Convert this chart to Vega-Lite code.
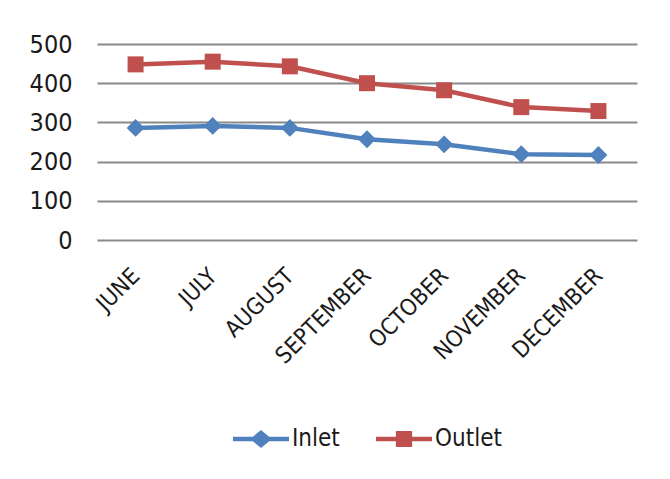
{
  "$schema": "https://vega.github.io/schema/vega-lite/v6.json",
  "width": 540,
  "height": 196,
  "autosize": {"type": "none"},
  "padding": {"left": 97, "top": 44, "right": 33, "bottom": 239},
  "background": "white",
  "config": {
    "view": {"stroke": null},
    "font": "DejaVu Sans Condensed, Open Sans, sans-serif",
    "legend": {"layout": {"bottom": {"anchor": "middle"}}}
  },
  "data": {
    "values": [
      {"month": "JUNE", "series": "Inlet", "value": 286},
      {"month": "JULY", "series": "Inlet", "value": 291},
      {"month": "AUGUST", "series": "Inlet", "value": 286},
      {"month": "SEPTEMBER", "series": "Inlet", "value": 257},
      {"month": "OCTOBER", "series": "Inlet", "value": 244},
      {"month": "NOVEMBER", "series": "Inlet", "value": 219},
      {"month": "DECEMBER", "series": "Inlet", "value": 217},
      {"month": "JUNE", "series": "Outlet", "value": 448},
      {"month": "JULY", "series": "Outlet", "value": 455},
      {"month": "AUGUST", "series": "Outlet", "value": 443},
      {"month": "SEPTEMBER", "series": "Outlet", "value": 400},
      {"month": "OCTOBER", "series": "Outlet", "value": 382},
      {"month": "NOVEMBER", "series": "Outlet", "value": 339},
      {"month": "DECEMBER", "series": "Outlet", "value": 329}
    ]
  },
  "encoding": {
    "x": {
      "field": "month",
      "type": "nominal",
      "sort": null,
      "scale": {"type": "point", "padding": 0.5},
      "axis": {
        "title": null,
        "domain": false,
        "ticks": false,
        "grid": false,
        "labelAngle": -45,
        "labelAlign": "right",
        "labelBaseline": "middle",
        "labelPadding": 32,
        "labelFontSize": 23,
        "labelColor": "#1a1a1a"
      }
    },
    "y": {
      "field": "value",
      "type": "quantitative",
      "scale": {"domain": [0, 500], "nice": false},
      "axis": {
        "title": null,
        "domain": false,
        "ticks": false,
        "values": [0, 100, 200, 300, 400, 500],
        "labelPadding": 25,
        "labelFontSize": 25,
        "labelColor": "#1a1a1a",
        "gridColor": "#8a8a8a",
        "gridWidth": 2.2,
        "gridOpacity": 1
      }
    },
    "color": {
      "field": "series",
      "type": "nominal",
      "scale": {"domain": ["Inlet", "Outlet"], "range": ["#4f81bd", "#c0504d"]},
      "legend": {
        "title": null,
        "orient": "bottom",
        "direction": "horizontal",
        "offset": 42,
        "symbolSize": 3136,
        "symbolStrokeWidth": 0,
        "symbolOpacity": 1,
        "labelFontSize": 24,
        "labelColor": "#1a1a1a",
        "labelOffset": 3,
        "columnPadding": 36
      }
    }
  },
  "layer": [
    {
      "description": "Legend keys: line segment with the series marker, drawn only in the legend",
      "transform": [{"filter": "datum.value < 0"}],
      "mark": {"type": "point", "filled": true, "opacity": 1},
      "encoding": {
        "shape": {
          "field": "series",
          "type": "nominal",
          "scale": {
            "domain": ["Inlet", "Outlet"],
            "range": [
              "M-1,-0.08H-0.29L0,-0.32L0.29,-0.08H1V0.08H0.29L0,0.32L-0.29,0.08H-1Z",
              "M-1,-0.08H-0.29V-0.29H0.29V-0.08H1V0.08H0.29V0.29H-0.29V0.08H-1Z"
            ]
          },
          "legend": null
        }
      }
    },
    {
      "mark": {"type": "line", "strokeWidth": 4.5}
    },
    {
      "transform": [{"filter": "datum.series === 'Inlet'"}],
      "mark": {"type": "point", "filled": true, "opacity": 1, "size": 320, "shape": "diamond"}
    },
    {
      "transform": [{"filter": "datum.series === 'Outlet'"}],
      "mark": {"type": "point", "filled": true, "opacity": 1, "size": 256, "shape": "square"}
    }
  ]
}
